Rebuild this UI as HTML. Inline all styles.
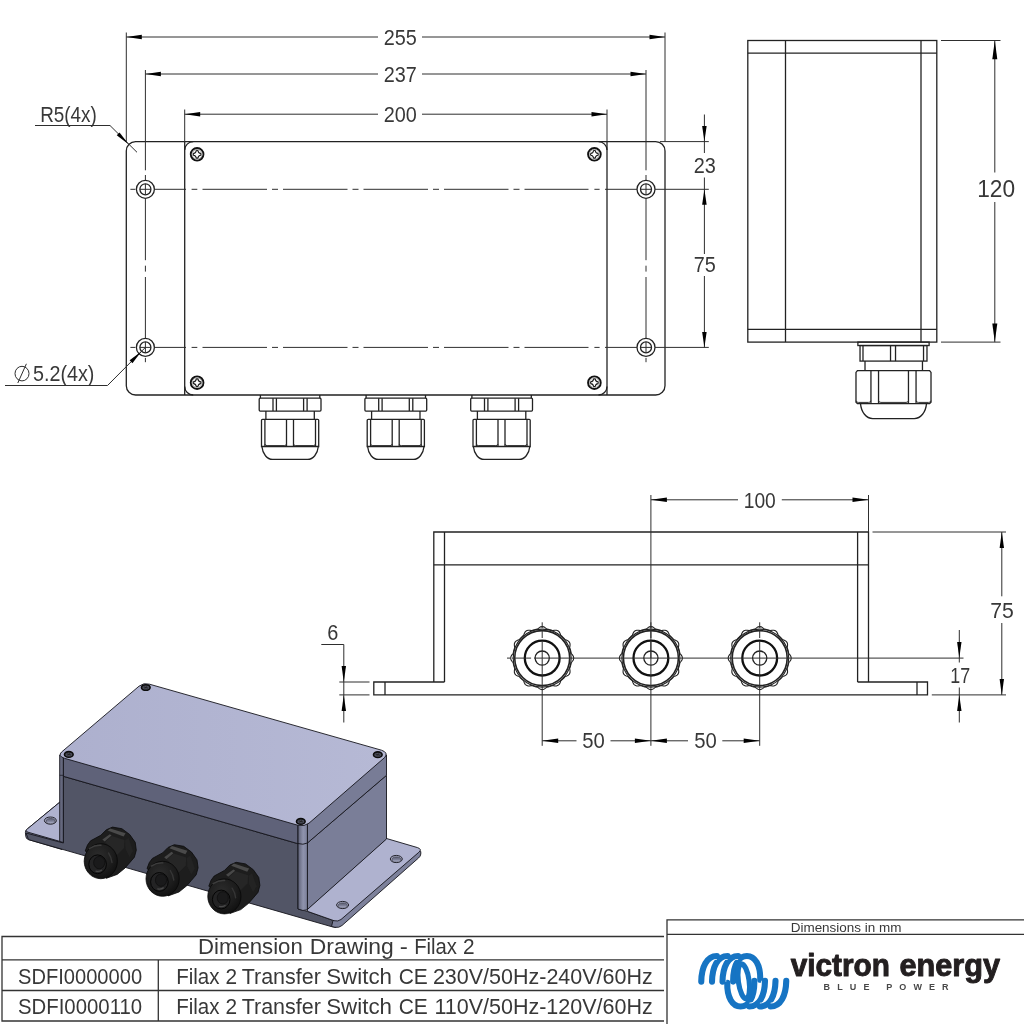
<!DOCTYPE html>
<html lang="en">
<head>
<meta charset="utf-8">
<title>Dimension Drawing - Filax 2</title>
<style>
html,body{margin:0;padding:0;background:#fff;}
body{width:1024px;height:1024px;overflow:hidden;}
svg{display:block;will-change:transform;opacity:0.999;}
.o{fill:none;stroke:#222;stroke-width:1.3;}
.k{fill:none;stroke:#111;stroke-width:1.9;}
.d{fill:none;stroke:#2e2e2e;stroke-width:1;}
.c{fill:none;stroke:#2e2e2e;stroke-width:1;}
.a{fill:#000;stroke:none;}
.t{font-family:"Liberation Sans","DejaVu Sans",sans-serif;fill:#383838;}
.tb{font-family:"Liberation Sans","DejaVu Sans",sans-serif;fill:#231f20;font-weight:bold;}
</style>
</head>
<body>
<svg width="1024" height="1024" viewBox="0 0 1024 1024">
<rect x="0" y="0" width="1024" height="1024" fill="#fff"/>
<g id="topview">
<rect class="o" x="126.3" y="141.6" width="538.7" height="253.4" rx="9.3"/>
<path class="o" d="M184.7,150.1 A8.5,8.5 0 0 1 193.2,141.6 M598.5,141.6 A8.5,8.5 0 0 1 607,150.1 M607,386.5 A8.5,8.5 0 0 1 598.5,395 M193.2,395 A8.5,8.5 0 0 1 184.7,386.5"/>
<line class="o" x1="184.7" y1="141.6" x2="184.7" y2="395"/>
<line class="o" x1="607" y1="141.6" x2="607" y2="395"/>
<circle class="k" cx="197.1" cy="154.3" r="6.35" style="stroke-width:1.9"/>
<circle class="d" cx="197.1" cy="154.3" r="4.9" style="stroke:#8a8a8a;stroke-width:0.7"/>
<path class="d" d="M196.2,150.7 Q197.1,150.2 198,150.7 Q198.22,153.18 200.7,153.4 Q201.2,154.3 200.7,155.2 Q198.22,155.42 198,157.9 Q197.1,158.4 196.2,157.9 Q195.98,155.42 193.5,155.2 Q193,154.3 193.5,153.4 Q195.98,153.18 196.2,150.7Z" style="stroke:#1a1a1a;stroke-width:1.1"/>
<circle class="k" cx="197.1" cy="382.7" r="6.35" style="stroke-width:1.9"/>
<circle class="d" cx="197.1" cy="382.7" r="4.9" style="stroke:#8a8a8a;stroke-width:0.7"/>
<path class="d" d="M196.2,379.1 Q197.1,378.6 198,379.1 Q198.22,381.58 200.7,381.8 Q201.2,382.7 200.7,383.6 Q198.22,383.82 198,386.3 Q197.1,386.8 196.2,386.3 Q195.98,383.82 193.5,383.6 Q193,382.7 193.5,381.8 Q195.98,381.58 196.2,379.1Z" style="stroke:#1a1a1a;stroke-width:1.1"/>
<circle class="k" cx="594.4" cy="154.3" r="6.35" style="stroke-width:1.9"/>
<circle class="d" cx="594.4" cy="154.3" r="4.9" style="stroke:#8a8a8a;stroke-width:0.7"/>
<path class="d" d="M593.5,150.7 Q594.4,150.2 595.3,150.7 Q595.52,153.18 598,153.4 Q598.5,154.3 598,155.2 Q595.52,155.42 595.3,157.9 Q594.4,158.4 593.5,157.9 Q593.28,155.42 590.8,155.2 Q590.3,154.3 590.8,153.4 Q593.28,153.18 593.5,150.7Z" style="stroke:#1a1a1a;stroke-width:1.1"/>
<circle class="k" cx="594.4" cy="382.7" r="6.35" style="stroke-width:1.9"/>
<circle class="d" cx="594.4" cy="382.7" r="4.9" style="stroke:#8a8a8a;stroke-width:0.7"/>
<path class="d" d="M593.5,379.1 Q594.4,378.6 595.3,379.1 Q595.52,381.58 598,381.8 Q598.5,382.7 598,383.6 Q595.52,383.82 595.3,386.3 Q594.4,386.8 593.5,386.3 Q593.28,383.82 590.8,383.6 Q590.3,382.7 590.8,381.8 Q593.28,381.58 593.5,379.1Z" style="stroke:#1a1a1a;stroke-width:1.1"/>
<circle class="o" cx="145.4" cy="189.3" r="9"/>
<circle class="o" cx="145.4" cy="189.3" r="5.5"/>
<line class="c" x1="139.9" y1="189.3" x2="150.9" y2="189.3"/>
<line class="c" x1="145.4" y1="183.8" x2="145.4" y2="194.8"/>
<circle class="o" cx="145.4" cy="347.4" r="9"/>
<circle class="o" cx="145.4" cy="347.4" r="5.5"/>
<line class="c" x1="139.9" y1="347.4" x2="150.9" y2="347.4"/>
<line class="c" x1="145.4" y1="341.9" x2="145.4" y2="352.9"/>
<circle class="o" cx="646" cy="189.3" r="9"/>
<circle class="o" cx="646" cy="189.3" r="5.5"/>
<line class="c" x1="640.5" y1="189.3" x2="651.5" y2="189.3"/>
<line class="c" x1="646" y1="183.8" x2="646" y2="194.8"/>
<circle class="o" cx="646" cy="347.4" r="9"/>
<circle class="o" cx="646" cy="347.4" r="5.5"/>
<line class="c" x1="640.5" y1="347.4" x2="651.5" y2="347.4"/>
<line class="c" x1="646" y1="341.9" x2="646" y2="352.9"/>
<line class="c" x1="130.4" y1="189.3" x2="135.4" y2="189.3"/>
<line class="c" x1="154.4" y1="189.3" x2="186" y2="189.3"/>
<line class="c" x1="191.6" y1="189.3" x2="197.3" y2="189.3"/>
<line class="c" x1="202.5" y1="189.3" x2="588.5" y2="189.3" stroke-dasharray="64.5 5 6 5"/>
<line class="c" x1="594.4" y1="189.3" x2="599.6" y2="189.3"/>
<line class="c" x1="605" y1="189.3" x2="637" y2="189.3"/>
<line class="c" x1="655" y1="189.3" x2="708.8" y2="189.3"/>
<line class="c" x1="130.4" y1="347.4" x2="135.4" y2="347.4"/>
<line class="c" x1="154.4" y1="347.4" x2="186" y2="347.4"/>
<line class="c" x1="191.6" y1="347.4" x2="197.3" y2="347.4"/>
<line class="c" x1="202.5" y1="347.4" x2="588.5" y2="347.4" stroke-dasharray="64.5 5 6 5"/>
<line class="c" x1="594.4" y1="347.4" x2="599.6" y2="347.4"/>
<line class="c" x1="605" y1="347.4" x2="637" y2="347.4"/>
<line class="c" x1="655" y1="347.4" x2="708.8" y2="347.4"/>
<line class="c" x1="145.4" y1="70" x2="145.4" y2="170.3"/>
<line class="c" x1="145.4" y1="175" x2="145.4" y2="180.3"/>
<line class="c" x1="145.4" y1="198.3" x2="145.4" y2="260.2"/>
<line class="c" x1="145.4" y1="265.7" x2="145.4" y2="271.6"/>
<line class="c" x1="145.4" y1="277" x2="145.4" y2="338.4"/>
<line class="c" x1="145.4" y1="357.9" x2="145.4" y2="362.2"/>
<line class="c" x1="646" y1="70" x2="646" y2="170.3"/>
<line class="c" x1="646" y1="175" x2="646" y2="180.3"/>
<line class="c" x1="646" y1="198.3" x2="646" y2="260.2"/>
<line class="c" x1="646" y1="265.7" x2="646" y2="271.6"/>
<line class="c" x1="646" y1="277" x2="646" y2="338.4"/>
<line class="c" x1="646" y1="357.9" x2="646" y2="362.2"/>
<line class="d" x1="126.3" y1="32.5" x2="126.3" y2="141.6"/>
<line class="d" x1="665" y1="32.5" x2="665" y2="141.6"/>
<line class="d" x1="126.3" y1="37" x2="378" y2="37"/>
<line class="d" x1="422" y1="37" x2="665" y2="37"/>
<polygon class="a" points="126.3,37 141.8,34.8 141.8,39.2"/>
<polygon class="a" points="665,37 649.5,39.2 649.5,34.8"/>
<text class="t" x="383.7" y="44.5" font-size="22" textLength="33.1" lengthAdjust="spacingAndGlyphs">255</text>
<line class="d" x1="145.4" y1="74" x2="378" y2="74"/>
<line class="d" x1="422" y1="74" x2="646" y2="74"/>
<polygon class="a" points="145.4,74 160.9,71.8 160.9,76.2"/>
<polygon class="a" points="646,74 630.5,76.2 630.5,71.8"/>
<text class="t" x="383.7" y="82" font-size="22" textLength="33.1" lengthAdjust="spacingAndGlyphs">237</text>
<line class="d" x1="184.7" y1="109.5" x2="184.7" y2="141.6"/>
<line class="d" x1="607" y1="109.5" x2="607" y2="141.6"/>
<line class="d" x1="184.7" y1="114.2" x2="378" y2="114.2"/>
<line class="d" x1="422" y1="114.2" x2="607" y2="114.2"/>
<polygon class="a" points="184.7,114.2 200.2,112 200.2,116.4"/>
<polygon class="a" points="607,114.2 591.5,116.4 591.5,112"/>
<text class="t" x="383.7" y="122" font-size="22" textLength="33.1" lengthAdjust="spacingAndGlyphs">200</text>
<line class="d" x1="660" y1="141.6" x2="708.8" y2="141.6"/>
<line class="d" x1="704.4" y1="114.5" x2="704.4" y2="153"/>
<polygon class="a" points="704.4,141.6 702.15,126.1 706.65,126.1"/>
<line class="d" x1="704.4" y1="177.5" x2="704.4" y2="254"/>
<polygon class="a" points="704.4,189.3 706.65,204.8 702.15,204.8"/>
<line class="d" x1="704.4" y1="276" x2="704.4" y2="347.4"/>
<polygon class="a" points="704.4,347.4 702.15,331.9 706.65,331.9"/>
<text class="t" x="693.7" y="173.3" font-size="22" textLength="22.1" lengthAdjust="spacingAndGlyphs">23</text>
<text class="t" x="693.7" y="271.5" font-size="22" textLength="22.1" lengthAdjust="spacingAndGlyphs">75</text>
<text class="t" x="40.2" y="121.8" font-size="22" textLength="56.6" lengthAdjust="spacingAndGlyphs">R5(4x)</text>
<path class="d" d="M35,125.5 H110 L137,152.3"/>
<polygon class="a" points="128.8,144.4 116.75,135.25 119.56,132.41"/>
<g class="d"><ellipse cx="22" cy="373.6" rx="7" ry="7.3"/><line x1="17.8" y1="383" x2="26.4" y2="363.8"/></g>
<text class="t" x="33" y="380.8" font-size="22" textLength="61.4" lengthAdjust="spacingAndGlyphs">5.2(4x)</text>
<path class="d" d="M5,385.5 H107.5 L145.4,347.4"/>
<polygon class="a" points="141.3,351.5 132.46,363.17 129.63,360.34"/>
<path class="o" d="M260.4,395 V398.2 M319.8,395 V398.2"/>
<rect class="o" x="259.2" y="398.2" width="61.8" height="12.9" rx="1"/>
<line class="o" x1="273" y1="398.2" x2="273" y2="411.1"/>
<line class="o" x1="276.4" y1="398.2" x2="276.4" y2="411.1"/>
<line class="o" x1="303.6" y1="398.2" x2="303.6" y2="411.1"/>
<line class="o" x1="307.1" y1="398.2" x2="307.1" y2="411.1"/>
<line class="o" x1="265.9" y1="411.1" x2="265.9" y2="419.3"/>
<line class="o" x1="314.3" y1="411.1" x2="314.3" y2="419.3"/>
<path class="o" d="M261.5,446.5 V420.3 Q261.5,419.3 262.5,419.3 H317.7 Q318.7,419.3 318.7,420.3 V446.5 Z"/>
<line class="o" x1="264.9" y1="419.3" x2="264.9" y2="446.5"/>
<line class="o" x1="286.5" y1="419.3" x2="286.5" y2="446.5"/>
<line class="o" x1="293.5" y1="419.3" x2="293.5" y2="446.5"/>
<line class="o" x1="315.5" y1="419.3" x2="315.5" y2="446.5"/>
<path class="d" d="M264.9,444 Q264.9,445.6 267.1,445.6 H284.3 Q286.5,445.6 286.5,444"/>
<path class="d" d="M293.5,444 Q293.5,445.6 295.7,445.6 H313.3 Q315.5,445.6 315.5,444"/>
<path class="o" d="M261.9,446.5 C262.6,454 267.1,459.4 272.6,459.4 H307.6 C313.1,459.4 317.6,454 318.3,446.5"/>
<path class="o" d="M366.1,395 V398.2 M425.5,395 V398.2"/>
<rect class="o" x="364.9" y="398.2" width="61.8" height="12.9" rx="1"/>
<line class="o" x1="378.7" y1="398.2" x2="378.7" y2="411.1"/>
<line class="o" x1="382.1" y1="398.2" x2="382.1" y2="411.1"/>
<line class="o" x1="409.3" y1="398.2" x2="409.3" y2="411.1"/>
<line class="o" x1="412.8" y1="398.2" x2="412.8" y2="411.1"/>
<line class="o" x1="371.6" y1="411.1" x2="371.6" y2="419.3"/>
<line class="o" x1="420" y1="411.1" x2="420" y2="419.3"/>
<path class="o" d="M367.2,446.5 V420.3 Q367.2,419.3 368.2,419.3 H423.4 Q424.4,419.3 424.4,420.3 V446.5 Z"/>
<line class="o" x1="370.6" y1="419.3" x2="370.6" y2="446.5"/>
<line class="o" x1="392.2" y1="419.3" x2="392.2" y2="446.5"/>
<line class="o" x1="399.2" y1="419.3" x2="399.2" y2="446.5"/>
<line class="o" x1="421.2" y1="419.3" x2="421.2" y2="446.5"/>
<path class="d" d="M370.6,444 Q370.6,445.6 372.8,445.6 H390 Q392.2,445.6 392.2,444"/>
<path class="d" d="M399.2,444 Q399.2,445.6 401.4,445.6 H419 Q421.2,445.6 421.2,444"/>
<path class="o" d="M367.6,446.5 C368.3,454 372.8,459.4 378.3,459.4 H413.3 C418.8,459.4 423.3,454 424,446.5"/>
<path class="o" d="M471.9,395 V398.2 M531.3,395 V398.2"/>
<rect class="o" x="470.7" y="398.2" width="61.8" height="12.9" rx="1"/>
<line class="o" x1="484.5" y1="398.2" x2="484.5" y2="411.1"/>
<line class="o" x1="487.9" y1="398.2" x2="487.9" y2="411.1"/>
<line class="o" x1="515.1" y1="398.2" x2="515.1" y2="411.1"/>
<line class="o" x1="518.6" y1="398.2" x2="518.6" y2="411.1"/>
<line class="o" x1="477.4" y1="411.1" x2="477.4" y2="419.3"/>
<line class="o" x1="525.8" y1="411.1" x2="525.8" y2="419.3"/>
<path class="o" d="M473,446.5 V420.3 Q473,419.3 474,419.3 H529.2 Q530.2,419.3 530.2,420.3 V446.5 Z"/>
<line class="o" x1="476.4" y1="419.3" x2="476.4" y2="446.5"/>
<line class="o" x1="498" y1="419.3" x2="498" y2="446.5"/>
<line class="o" x1="505" y1="419.3" x2="505" y2="446.5"/>
<line class="o" x1="527" y1="419.3" x2="527" y2="446.5"/>
<path class="d" d="M476.4,444 Q476.4,445.6 478.6,445.6 H495.8 Q498,445.6 498,444"/>
<path class="d" d="M505,444 Q505,445.6 507.2,445.6 H524.8 Q527,445.6 527,444"/>
<path class="o" d="M473.4,446.5 C474.1,454 478.6,459.4 484.1,459.4 H519.1 C524.6,459.4 529.1,454 529.8,446.5"/>
</g>
<g id="sideview">
<rect class="o" x="747.8" y="40.5" width="189" height="301.6"/>
<line class="o" x1="747.8" y1="53.1" x2="936.8" y2="53.1"/>
<line class="o" x1="747.8" y1="329.3" x2="936.8" y2="329.3"/>
<line class="o" x1="785.5" y1="40.5" x2="785.5" y2="342.1"/>
<line class="o" x1="921" y1="40.5" x2="921" y2="342.1"/>
<line class="d" x1="941" y1="40.5" x2="1000.5" y2="40.5"/>
<line class="d" x1="941" y1="342.1" x2="1000.5" y2="342.1"/>
<line class="d" x1="994.8" y1="40.5" x2="994.8" y2="172.5"/>
<line class="d" x1="994.8" y1="202" x2="994.8" y2="342.1"/>
<polygon class="a" points="994.8,40.5 997.3,59.2 992.3,59.2"/>
<polygon class="a" points="994.8,342.1 992.3,323.4 997.3,323.4"/>
<text class="t" x="977.2" y="197" font-size="24.5" textLength="37.9" lengthAdjust="spacingAndGlyphs">120</text>
<rect class="o" x="857.89" y="342.1" width="71.22" height="3.44"/>
<rect class="o" x="860.03" y="345.54" width="66.95" height="15.55"/>
<line class="o" x1="862.99" y1="345.54" x2="862.99" y2="361.09"/>
<line class="o" x1="890.53" y1="345.54" x2="890.53" y2="361.09"/>
<line class="o" x1="895.52" y1="345.54" x2="895.52" y2="361.09"/>
<line class="o" x1="923.53" y1="345.54" x2="923.53" y2="361.09"/>
<line class="o" x1="865.01" y1="361.09" x2="865.01" y2="370.59"/>
<line class="o" x1="922.46" y1="361.09" x2="922.46" y2="370.59"/>
<path class="o" d="M855.99,402.16 V372.37 L857.42,370.59 H929.58 L931.01,372.37 V402.16 L929.58,403.59 H857.42 Z"/>
<line class="o" x1="870.95" y1="370.59" x2="870.95" y2="403.23"/>
<line class="o" x1="878.54" y1="370.59" x2="878.54" y2="403.23"/>
<line class="o" x1="908.46" y1="370.59" x2="908.46" y2="403.23"/>
<line class="o" x1="916.05" y1="370.59" x2="916.05" y2="403.23"/>
<path class="d" d="M855.99,400.62 Q855.99,402.4 858.36,402.4 H868.57 Q870.95,402.4 870.95,400.62"/>
<path class="d" d="M878.54,400.62 Q878.54,402.4 880.92,402.4 H906.08 Q908.46,402.4 908.46,400.62"/>
<path class="d" d="M916.05,400.62 Q916.05,402.4 918.43,402.4 H928.64 Q931.01,402.4 931.01,400.62"/>
<path class="o" d="M860.5,403.59 C861.21,412.13 866.2,418.54 872.73,418.54 H914.27 C920.8,418.54 925.79,412.13 926.5,403.59"/>
</g>
<g id="frontview">
<path class="o" d="M433.8,682 V532 H868.5 V682"/>
<line class="o" x1="433.8" y1="564.9" x2="868.5" y2="564.9"/>
<line class="o" x1="444.5" y1="532" x2="444.5" y2="682"/>
<line class="o" x1="857.6" y1="532" x2="857.6" y2="682"/>
<path class="o" d="M444.5,682 H373.8 V694.9 H927.5 V682 H857.6"/>
<line class="o" x1="385" y1="682" x2="385" y2="694.9"/>
<line class="o" x1="917" y1="682" x2="917" y2="694.9"/>
<path class="o" d="M573.7,658.1 L573.41,659.74 L572.47,661.28 L571.24,662.7 L570.96,664.21 L570.6,665.71 L570.16,667.19 L569.65,668.64 L570.01,670.48 L570.04,672.29 L569.48,673.85 L568.41,675.12 L566.82,675.99 L565.05,676.6 L564.05,677.77 L562.99,678.89 L561.87,679.95 L560.7,680.95 L560.09,682.72 L559.22,684.31 L557.95,685.38 L556.39,685.94 L554.58,685.91 L552.74,685.55 L551.29,686.06 L549.81,686.5 L548.31,686.86 L546.8,687.14 L545.38,688.37 L543.84,689.31 L542.2,689.6 L540.56,689.31 L539.02,688.37 L537.6,687.14 L536.09,686.86 L534.59,686.5 L533.11,686.06 L531.66,685.55 L529.82,685.91 L528.01,685.94 L526.45,685.38 L525.18,684.31 L524.31,682.72 L523.7,680.95 L522.53,679.95 L521.41,678.89 L520.35,677.77 L519.35,676.6 L517.58,675.99 L515.99,675.12 L514.92,673.85 L514.36,672.29 L514.39,670.48 L514.75,668.64 L514.24,667.19 L513.8,665.71 L513.44,664.21 L513.16,662.7 L511.93,661.28 L510.99,659.74 L510.7,658.1 L510.99,656.46 L511.93,654.92 L513.16,653.5 L513.44,651.99 L513.8,650.49 L514.24,649.01 L514.75,647.56 L514.39,645.72 L514.36,643.91 L514.92,642.35 L515.99,641.08 L517.58,640.21 L519.35,639.6 L520.35,638.43 L521.41,637.31 L522.53,636.25 L523.7,635.25 L524.31,633.48 L525.18,631.89 L526.45,630.82 L528.01,630.26 L529.82,630.29 L531.66,630.65 L533.11,630.14 L534.59,629.7 L536.09,629.34 L537.6,629.06 L539.02,627.83 L540.56,626.89 L542.2,626.6 L543.84,626.89 L545.38,627.83 L546.8,629.06 L548.31,629.34 L549.81,629.7 L551.29,630.14 L552.74,630.65 L554.58,630.29 L556.39,630.26 L557.95,630.82 L559.22,631.89 L560.09,633.48 L560.7,635.25 L561.87,636.25 L562.99,637.31 L564.05,638.43 L565.05,639.6 L566.82,640.21 L568.41,641.08 L569.48,642.35 L570.04,643.91 L570.01,645.72 L569.65,647.56 L570.16,649.01 L570.6,650.49 L570.96,651.99 L571.24,653.5 L572.47,654.92 L573.41,656.46 L573.7,658.1Z" style="stroke-width:1.1"/>
<circle class="o" cx="542.2" cy="658.1" r="27.5" style="stroke-width:1.6"/>
<circle class="o" cx="542.2" cy="658.1" r="29" style="stroke-width:1.1"/>
<circle class="k" cx="542.2" cy="658.1" r="17.4" style="stroke-width:2.3"/>
<circle class="o" cx="542.2" cy="658.1" r="7.1"/>
<path class="o" d="M682.4,658.1 L682.11,659.74 L681.17,661.28 L679.94,662.7 L679.66,664.21 L679.3,665.71 L678.86,667.19 L678.35,668.64 L678.71,670.48 L678.74,672.29 L678.18,673.85 L677.11,675.12 L675.52,675.99 L673.75,676.6 L672.75,677.77 L671.69,678.89 L670.57,679.95 L669.4,680.95 L668.79,682.72 L667.92,684.31 L666.65,685.38 L665.09,685.94 L663.28,685.91 L661.44,685.55 L659.99,686.06 L658.51,686.5 L657.01,686.86 L655.5,687.14 L654.08,688.37 L652.54,689.31 L650.9,689.6 L649.26,689.31 L647.72,688.37 L646.3,687.14 L644.79,686.86 L643.29,686.5 L641.81,686.06 L640.36,685.55 L638.52,685.91 L636.71,685.94 L635.15,685.38 L633.88,684.31 L633.01,682.72 L632.4,680.95 L631.23,679.95 L630.11,678.89 L629.05,677.77 L628.05,676.6 L626.28,675.99 L624.69,675.12 L623.62,673.85 L623.06,672.29 L623.09,670.48 L623.45,668.64 L622.94,667.19 L622.5,665.71 L622.14,664.21 L621.86,662.7 L620.63,661.28 L619.69,659.74 L619.4,658.1 L619.69,656.46 L620.63,654.92 L621.86,653.5 L622.14,651.99 L622.5,650.49 L622.94,649.01 L623.45,647.56 L623.09,645.72 L623.06,643.91 L623.62,642.35 L624.69,641.08 L626.28,640.21 L628.05,639.6 L629.05,638.43 L630.11,637.31 L631.23,636.25 L632.4,635.25 L633.01,633.48 L633.88,631.89 L635.15,630.82 L636.71,630.26 L638.52,630.29 L640.36,630.65 L641.81,630.14 L643.29,629.7 L644.79,629.34 L646.3,629.06 L647.72,627.83 L649.26,626.89 L650.9,626.6 L652.54,626.89 L654.08,627.83 L655.5,629.06 L657.01,629.34 L658.51,629.7 L659.99,630.14 L661.44,630.65 L663.28,630.29 L665.09,630.26 L666.65,630.82 L667.92,631.89 L668.79,633.48 L669.4,635.25 L670.57,636.25 L671.69,637.31 L672.75,638.43 L673.75,639.6 L675.52,640.21 L677.11,641.08 L678.18,642.35 L678.74,643.91 L678.71,645.72 L678.35,647.56 L678.86,649.01 L679.3,650.49 L679.66,651.99 L679.94,653.5 L681.17,654.92 L682.11,656.46 L682.4,658.1Z" style="stroke-width:1.1"/>
<circle class="o" cx="650.9" cy="658.1" r="27.5" style="stroke-width:1.6"/>
<circle class="o" cx="650.9" cy="658.1" r="29" style="stroke-width:1.1"/>
<circle class="k" cx="650.9" cy="658.1" r="17.4" style="stroke-width:2.3"/>
<circle class="o" cx="650.9" cy="658.1" r="7.1"/>
<path class="o" d="M791.2,658.1 L790.91,659.74 L789.97,661.28 L788.74,662.7 L788.46,664.21 L788.1,665.71 L787.66,667.19 L787.15,668.64 L787.51,670.48 L787.54,672.29 L786.98,673.85 L785.91,675.12 L784.32,675.99 L782.55,676.6 L781.55,677.77 L780.49,678.89 L779.37,679.95 L778.2,680.95 L777.59,682.72 L776.72,684.31 L775.45,685.38 L773.89,685.94 L772.08,685.91 L770.24,685.55 L768.79,686.06 L767.31,686.5 L765.81,686.86 L764.3,687.14 L762.88,688.37 L761.34,689.31 L759.7,689.6 L758.06,689.31 L756.52,688.37 L755.1,687.14 L753.59,686.86 L752.09,686.5 L750.61,686.06 L749.16,685.55 L747.32,685.91 L745.51,685.94 L743.95,685.38 L742.68,684.31 L741.81,682.72 L741.2,680.95 L740.03,679.95 L738.91,678.89 L737.85,677.77 L736.85,676.6 L735.08,675.99 L733.49,675.12 L732.42,673.85 L731.86,672.29 L731.89,670.48 L732.25,668.64 L731.74,667.19 L731.3,665.71 L730.94,664.21 L730.66,662.7 L729.43,661.28 L728.49,659.74 L728.2,658.1 L728.49,656.46 L729.43,654.92 L730.66,653.5 L730.94,651.99 L731.3,650.49 L731.74,649.01 L732.25,647.56 L731.89,645.72 L731.86,643.91 L732.42,642.35 L733.49,641.08 L735.08,640.21 L736.85,639.6 L737.85,638.43 L738.91,637.31 L740.03,636.25 L741.2,635.25 L741.81,633.48 L742.68,631.89 L743.95,630.82 L745.51,630.26 L747.32,630.29 L749.16,630.65 L750.61,630.14 L752.09,629.7 L753.59,629.34 L755.1,629.06 L756.52,627.83 L758.06,626.89 L759.7,626.6 L761.34,626.89 L762.88,627.83 L764.3,629.06 L765.81,629.34 L767.31,629.7 L768.79,630.14 L770.24,630.65 L772.08,630.29 L773.89,630.26 L775.45,630.82 L776.72,631.89 L777.59,633.48 L778.2,635.25 L779.37,636.25 L780.49,637.31 L781.55,638.43 L782.55,639.6 L784.32,640.21 L785.91,641.08 L786.98,642.35 L787.54,643.91 L787.51,645.72 L787.15,647.56 L787.66,649.01 L788.1,650.49 L788.46,651.99 L788.74,653.5 L789.97,654.92 L790.91,656.46 L791.2,658.1Z" style="stroke-width:1.1"/>
<circle class="o" cx="759.7" cy="658.1" r="27.5" style="stroke-width:1.6"/>
<circle class="o" cx="759.7" cy="658.1" r="29" style="stroke-width:1.1"/>
<circle class="k" cx="759.7" cy="658.1" r="17.4" style="stroke-width:2.3"/>
<circle class="o" cx="759.7" cy="658.1" r="7.1"/>
<line class="c" x1="542.2" y1="622.3" x2="542.2" y2="658.1" stroke-dasharray="5.5 3.2 7 3.2 100"/>
<line class="c" x1="650.9" y1="622.3" x2="650.9" y2="658.1" stroke-dasharray="5.5 3.2 7 3.2 100"/>
<line class="c" x1="759.7" y1="622.3" x2="759.7" y2="658.1" stroke-dasharray="5.5 3.2 7 3.2 100"/>
<line class="c" x1="507" y1="658.1" x2="542.2" y2="658.1" stroke-dasharray="3.5 1.6 19 3 100"/>
<line class="d" x1="542.2" y1="658.1" x2="963.5" y2="658.1"/>
<line class="d" x1="650.9" y1="495" x2="650.9" y2="745.8"/>
<line class="d" x1="868.5" y1="495" x2="868.5" y2="532"/>
<line class="d" x1="650.9" y1="499.8" x2="738" y2="499.8"/>
<line class="d" x1="781.8" y1="499.8" x2="868.5" y2="499.8"/>
<polygon class="a" points="650.9,499.8 666.9,497.6 666.9,502"/>
<polygon class="a" points="868.5,499.8 852.5,502 852.5,497.6"/>
<text class="t" x="743.7" y="507.5" font-size="22" textLength="32.1" lengthAdjust="spacingAndGlyphs">100</text>
<line class="d" x1="542.2" y1="658.1" x2="542.2" y2="745.8"/>
<line class="d" x1="759.7" y1="658.1" x2="759.7" y2="745.8"/>
<line class="d" x1="542.2" y1="740.8" x2="576.5" y2="740.8"/>
<line class="d" x1="610.5" y1="740.8" x2="650.9" y2="740.8"/>
<line class="d" x1="650.9" y1="740.8" x2="688" y2="740.8"/>
<line class="d" x1="722.3" y1="740.8" x2="759.7" y2="740.8"/>
<polygon class="a" points="542.2,740.8 558.2,738.6 558.2,743"/>
<polygon class="a" points="650.9,740.8 634.9,743 634.9,738.6"/>
<polygon class="a" points="650.9,740.8 666.9,738.6 666.9,743"/>
<polygon class="a" points="759.7,740.8 743.7,743 743.7,738.6"/>
<text class="t" x="582.2" y="748.3" font-size="22" textLength="22.6" lengthAdjust="spacingAndGlyphs">50</text>
<text class="t" x="694.2" y="748.3" font-size="22" textLength="22.6" lengthAdjust="spacingAndGlyphs">50</text>
<line class="d" x1="872.5" y1="532" x2="1006" y2="532"/>
<line class="d" x1="931.8" y1="694.9" x2="1006" y2="694.9"/>
<line class="d" x1="1001.8" y1="532" x2="1001.8" y2="596.3"/>
<line class="d" x1="1001.8" y1="623" x2="1001.8" y2="694.9"/>
<polygon class="a" points="1001.8,532 1004,548 999.6,548"/>
<polygon class="a" points="1001.8,694.9 999.6,678.9 1004,678.9"/>
<text class="t" x="990.2" y="617.5" font-size="22" textLength="23.6" lengthAdjust="spacingAndGlyphs">75</text>
<line class="d" x1="959.3" y1="630" x2="959.3" y2="662.5"/>
<line class="d" x1="959.3" y1="687.5" x2="959.3" y2="722.5"/>
<polygon class="a" points="959.3,658.1 957.1,642.1 961.5,642.1"/>
<polygon class="a" points="959.3,694.9 961.5,710.9 957.1,710.9"/>
<text class="t" x="950.2" y="682.5" font-size="22" textLength="19.9" lengthAdjust="spacingAndGlyphs">17</text>
<text class="t" x="327.2" y="640.3" font-size="22" textLength="11.1" lengthAdjust="spacingAndGlyphs">6</text>
<path class="d" d="M321.3,644.5 H343.8 V722.5"/>
<polygon class="a" points="343.8,682 341.6,666 346,666"/>
<polygon class="a" points="343.8,694.9 346,710.9 341.6,710.9"/>
<line class="d" x1="339.3" y1="682" x2="369.5" y2="682"/>
<line class="d" x1="339.3" y1="694.9" x2="369.5" y2="694.9"/>
</g>
<g id="iso" stroke-linejoin="round">
<defs>
<linearGradient id="gtop" x1="0" y1="0" x2="1" y2="0"><stop offset="0" stop-color="#adb0ce"/><stop offset="1" stop-color="#b6b9d5"/></linearGradient>
<linearGradient id="gcorner" x1="0" y1="0" x2="1" y2="0"><stop offset="0" stop-color="#5e6176"/><stop offset="0.55" stop-color="#8f93ad"/><stop offset="1" stop-color="#7b7f99"/></linearGradient>
<linearGradient id="gcornerl" x1="0" y1="0" x2="1" y2="0"><stop offset="0" stop-color="#6e7189"/><stop offset="1" stop-color="#5a5d71"/></linearGradient>
<linearGradient id="ghole" x1="0" y1="0" x2="0" y2="1"><stop offset="0" stop-color="#5a5d70"/><stop offset="0.5" stop-color="#7c7f97"/><stop offset="1" stop-color="#b4b7d0"/></linearGradient>
<radialGradient id="gdome" cx="0.42" cy="0.35" r="0.75"><stop offset="0" stop-color="#2c2c2c"/><stop offset="0.6" stop-color="#1c1c1c"/><stop offset="1" stop-color="#0c0c0c"/></radialGradient>
</defs>
<path d="M63,799.5 L27.5,828.8 Q25.2,830.3 25.4,832.5 L25.8,836.5 Q26,838.8 28.5,839.6 L62,849.5 Z" fill="#6a6d86" stroke="#15151c" stroke-width="0.9"/>
<path d="M63,799.5 L27.5,828.8 Q24.5,831 28,832.2 L63,842.3 Z" fill="#afb2cf" stroke="#15151c" stroke-width="0.9"/>
<ellipse cx="50.4" cy="820.6" rx="6" ry="3.6" fill="#a5a8c2" stroke="#15151c" stroke-width="0.9"/>
<ellipse cx="50.6" cy="821.1" rx="4.5" ry="2.6" fill="url(#ghole)" stroke="#2a2a33" stroke-width="0.5"/>
<path d="M63.4,776.3 L298,843.7 L298,909 L307.4,911.3 L334,920.7 L336,927.4 L331,926.5 L28.5,839.6 L26,833 L63.4,843 Z" fill="#525566" stroke="#15151c" stroke-width="0.9"/>
<path d="M418.8,850 L420.8,851.5 L420.8,854 Q420.6,856.3 418.5,858 L342,925.5 Q339,928 335,927.3 L331.5,926.5 L333,920.5 L341,918.5 Z" fill="#7d819b" stroke="#15151c" stroke-width="0.9"/>
<path d="M386.5,838.5 L417.5,847.6 Q422.5,849.3 418.8,852.3 L341,919.5 Q338,921.8 334,920.7 L307.4,911.3 L307.4,909 Z" fill="#afb2cf" stroke="#15151c" stroke-width="0.9"/>
<ellipse cx="396.3" cy="859" rx="6" ry="3.6" fill="#a5a8c2" stroke="#15151c" stroke-width="0.9"/>
<ellipse cx="396.5" cy="859.5" rx="4.5" ry="2.6" fill="url(#ghole)" stroke="#2a2a33" stroke-width="0.5"/>
<ellipse cx="342.6" cy="905" rx="6" ry="3.6" fill="#a5a8c2" stroke="#15151c" stroke-width="0.9"/>
<ellipse cx="342.8" cy="905.5" rx="4.5" ry="2.6" fill="url(#ghole)" stroke="#2a2a33" stroke-width="0.5"/>
<path d="M307.4,843 L386.5,775.3 L386.5,839 L307.4,909.5 Z" fill="#7a7e98" stroke="#15151c" stroke-width="0.9"/>
<path d="M307.4,824 L386.5,755 L386.5,775.3 L307.4,843 Z" fill="#787c96" stroke="#15151c" stroke-width="0.9"/>
<path d="M63.4,756 L298,823.5 L298,843.7 L63.4,776.3 Z" fill="#5f6279" stroke="#15151c" stroke-width="0.9"/>
<path d="M59.7,755 L63.4,756 L63.4,842.5 L59.7,841.5 Z" fill="url(#gcornerl)" stroke="#15151c" stroke-width="0.9"/>
<line class="o" x1="59.7" y1="775.3" x2="63.4" y2="775.3" style="stroke:#15151c;stroke-width:0.7"/>
<path d="M298,823.5 L307.4,824 L307.4,909.8 Q303,911.5 298,909 Z" fill="url(#gcorner)" stroke="#15151c" stroke-width="0.9"/>
<path d="M298,843.5 Q303,845.2 307.4,843" fill="none" stroke="#15151c" stroke-width="0.9"/>
<path d="M139,686.2 Q143.5,682.4 149.5,684.2 L381.5,750.2 Q388.6,752.6 384.8,757.4 L309,823.2 Q304.3,826.8 298,825.3 L64.5,758.3 Q57.5,756 61.6,752 Z" fill="url(#gtop)" stroke="#15151c" stroke-width="0.9"/>
<ellipse cx="145.8" cy="687.5" rx="4.3" ry="2.8" fill="#4a4c5a" stroke="#0c0c0c" stroke-width="1.6"/>
<path d="M143.60000000000002,686.9 L148.0,688.1 M144.60000000000002,688.5 L147.0,686.5" stroke="#222" stroke-width="0.9" fill="none"/>
<ellipse cx="68.8" cy="754.4" rx="4.3" ry="2.8" fill="#4a4c5a" stroke="#0c0c0c" stroke-width="1.6"/>
<path d="M66.6,753.8 L71.0,755.0 M67.6,755.4 L70.0,753.4" stroke="#222" stroke-width="0.9" fill="none"/>
<ellipse cx="377.8" cy="754.7" rx="4.3" ry="2.8" fill="#4a4c5a" stroke="#0c0c0c" stroke-width="1.6"/>
<path d="M375.6,754.1 L380.0,755.3000000000001 M376.6,755.7 L379.0,753.7" stroke="#222" stroke-width="0.9" fill="none"/>
<ellipse cx="300.8" cy="821.4" rx="4.3" ry="2.8" fill="#4a4c5a" stroke="#0c0c0c" stroke-width="1.6"/>
<path d="M298.6,820.8 L303.0,822.0 M299.6,822.4 L302.0,820.4" stroke="#222" stroke-width="0.9" fill="none"/>
<path d="M85.2,851 L87.5,845 L90.6,840.8 L100.8,835.3 L106.3,829.8 L112.5,827.1 L121.9,828.7 L129.7,834.5 L135.2,842.3 L136.3,850.2 L134.4,857.2 L129.7,862.7 L125,868.1 L117.2,874.4 L106.3,878.3 L96,860Z" fill="#1d1d1d" stroke="#0a0a0a" stroke-width="0.8"/>
<path d="M107.6,830.6 L110.2,828.4 L125.6,833.2 L123.6,836.6 Z" fill="#4a4a4a"/>
<path d="M102.4,839.6 L109.8,834.2 L111.6,835.6 L104.6,841.6 Z" fill="#484848"/>
<path d="M105,842 L112,836 L124.5,840 L124,848 L117,855 Z" fill="#262626"/>
<path d="M125,840.5 L128.5,838 L133,851 L129.5,857 L125.5,849 Z" fill="#232323"/>
<ellipse cx="100.8" cy="861.2" rx="16.6" ry="17.5" fill="url(#gdome)" stroke="#080808" stroke-width="0.8"/>
<path d="M89.5,848.5 Q95,844.8 101,845.3" stroke="#3d3d3d" stroke-width="1.4" fill="none" stroke-linecap="round"/>
<path d="M108.5,853 Q111.5,857.5 112,862.5" stroke="#353535" stroke-width="1.4" fill="none" stroke-linecap="round"/>
<ellipse cx="97.6" cy="864.3" rx="8.8" ry="9.4" fill="#232324" stroke="#050505" stroke-width="1"/>
<ellipse cx="99.2" cy="862.6" rx="5.6" ry="6.2" fill="#1a1a1b" stroke="#0a0a0a" stroke-width="0.6"/>
<path d="M96,871.2 Q99,872 101.5,870.3" stroke="#4a4a4a" stroke-width="1.3" fill="none" stroke-linecap="round"/>
<path d="M147,868.6 L149.3,862.6 L152.4,858.4 L162.6,852.9 L168.1,847.4 L174.3,844.7 L183.7,846.3 L191.5,852.1 L197,859.9 L198.1,867.8 L196.2,874.8 L191.5,880.3 L186.8,885.7 L179,892 L168.1,895.9 L157.8,877.6Z" fill="#1d1d1d" stroke="#0a0a0a" stroke-width="0.8"/>
<path d="M169.4,848.2 L172,846 L187.4,850.8 L185.4,854.2 Z" fill="#4a4a4a"/>
<path d="M164.2,857.2 L171.6,851.8 L173.4,853.2 L166.4,859.2 Z" fill="#484848"/>
<path d="M166.8,859.6 L173.8,853.6 L186.3,857.6 L185.8,865.6 L178.8,872.6 Z" fill="#262626"/>
<path d="M186.8,858.1 L190.3,855.6 L194.8,868.6 L191.3,874.6 L187.3,866.6 Z" fill="#232323"/>
<ellipse cx="162.6" cy="878.8" rx="16.6" ry="17.5" fill="url(#gdome)" stroke="#080808" stroke-width="0.8"/>
<path d="M151.3,866.1 Q156.8,862.4 162.8,862.9" stroke="#3d3d3d" stroke-width="1.4" fill="none" stroke-linecap="round"/>
<path d="M170.3,870.6 Q173.3,875.1 173.8,880.1" stroke="#353535" stroke-width="1.4" fill="none" stroke-linecap="round"/>
<ellipse cx="159.4" cy="881.9" rx="8.8" ry="9.4" fill="#232324" stroke="#050505" stroke-width="1"/>
<ellipse cx="161" cy="880.2" rx="5.6" ry="6.2" fill="#1a1a1b" stroke="#0a0a0a" stroke-width="0.6"/>
<path d="M157.8,888.8 Q160.8,889.6 163.3,887.9" stroke="#4a4a4a" stroke-width="1.3" fill="none" stroke-linecap="round"/>
<path d="M208.8,886.2 L211.1,880.2 L214.2,876 L224.4,870.5 L229.9,865 L236.1,862.3 L245.5,863.9 L253.3,869.7 L258.8,877.5 L259.9,885.4 L258,892.4 L253.3,897.9 L248.6,903.3 L240.8,909.6 L229.9,913.5 L219.6,895.2Z" fill="#1d1d1d" stroke="#0a0a0a" stroke-width="0.8"/>
<path d="M231.2,865.8 L233.8,863.6 L249.2,868.4 L247.2,871.8 Z" fill="#4a4a4a"/>
<path d="M226,874.8 L233.4,869.4 L235.2,870.8 L228.2,876.8 Z" fill="#484848"/>
<path d="M228.6,877.2 L235.6,871.2 L248.1,875.2 L247.6,883.2 L240.6,890.2 Z" fill="#262626"/>
<path d="M248.6,875.7 L252.1,873.2 L256.6,886.2 L253.1,892.2 L249.1,884.2 Z" fill="#232323"/>
<ellipse cx="224.4" cy="896.4" rx="16.6" ry="17.5" fill="url(#gdome)" stroke="#080808" stroke-width="0.8"/>
<path d="M213.1,883.7 Q218.6,880 224.6,880.5" stroke="#3d3d3d" stroke-width="1.4" fill="none" stroke-linecap="round"/>
<path d="M232.1,888.2 Q235.1,892.7 235.6,897.7" stroke="#353535" stroke-width="1.4" fill="none" stroke-linecap="round"/>
<ellipse cx="221.2" cy="899.5" rx="8.8" ry="9.4" fill="#232324" stroke="#050505" stroke-width="1"/>
<ellipse cx="222.8" cy="897.8" rx="5.6" ry="6.2" fill="#1a1a1b" stroke="#0a0a0a" stroke-width="0.6"/>
<path d="M219.6,906.4 Q222.6,907.2 225.1,905.5" stroke="#4a4a4a" stroke-width="1.3" fill="none" stroke-linecap="round"/>
</g>
<g id="table">
<path class="o" d="M664,936.5 H2 V1021 H664 M2,959.8 H664 M2,990.5 H664 M158.3,959.8 V1021" style="stroke:#333"/>
<text class="t" y="953.5" font-size="22.3"><tspan x="198" textLength="104.8" lengthAdjust="spacingAndGlyphs">Dimension</tspan> <tspan x="309.7" textLength="84.1" lengthAdjust="spacingAndGlyphs">Drawing</tspan> <tspan x="399.7" textLength="8.1" lengthAdjust="spacingAndGlyphs">-</tspan> <tspan x="414.2" textLength="42.8" lengthAdjust="spacingAndGlyphs">Filax</tspan> <tspan x="462.9" textLength="11.6" lengthAdjust="spacingAndGlyphs">2</tspan></text>
<text class="t" x="18" y="983.5" font-size="22.3" textLength="124.1" lengthAdjust="spacingAndGlyphs">SDFI0000000</text>
<text class="t" x="18" y="1013.5" font-size="22.3" textLength="124.1" lengthAdjust="spacingAndGlyphs">SDFI0000110</text>
<text class="t" y="983.5" font-size="22.3"><tspan x="176.2" textLength="43.3" lengthAdjust="spacingAndGlyphs">Filax</tspan> <tspan x="225.4" textLength="11.6" lengthAdjust="spacingAndGlyphs">2</tspan> <tspan x="241.7" textLength="79.1" lengthAdjust="spacingAndGlyphs">Transfer</tspan> <tspan x="326.2" textLength="65.8" lengthAdjust="spacingAndGlyphs">Switch</tspan> <tspan x="398.7" textLength="29.1" lengthAdjust="spacingAndGlyphs">CE</tspan> <tspan x="432.9" textLength="219.9" lengthAdjust="spacingAndGlyphs">230V/50Hz-240V/60Hz</tspan></text>
<text class="t" y="1013.5" font-size="22.3"><tspan x="176.2" textLength="43.3" lengthAdjust="spacingAndGlyphs">Filax</tspan> <tspan x="225.4" textLength="11.6" lengthAdjust="spacingAndGlyphs">2</tspan> <tspan x="241.7" textLength="79.1" lengthAdjust="spacingAndGlyphs">Transfer</tspan> <tspan x="326.2" textLength="65.8" lengthAdjust="spacingAndGlyphs">Switch</tspan> <tspan x="398.7" textLength="29.1" lengthAdjust="spacingAndGlyphs">CE</tspan> <tspan x="434.4" textLength="218.4" lengthAdjust="spacingAndGlyphs">110V/50Hz-120V/60Hz</tspan></text>
<path class="o" d="M1024,919.8 H667 V1024 M667,934.3 H1024" style="stroke:#333"/>
<text class="t" x="790.7" y="932" font-size="13.5" textLength="110.8" lengthAdjust="spacingAndGlyphs">Dimensions in mm</text>
</g>
<g id="logo">
<g fill="none" stroke="#1674c3" stroke-width="6.1" stroke-linecap="round">
<path d="M733.12,981.62 C733.12,962.5 740,956 746.88,956 C755,956 760.62,965 760.25,979.75"/>
<path d="M754.38,980.88 C754.38,1000 747.5,1006.5 740.62,1006.5 C732.5,1006.5 726.88,997.5 727.25,982.75"/>
<path d="M722.5,981.62 C722.75,966.88 728.12,956 738.12,956" stroke="#fff" stroke-width="7.4" stroke-linecap="butt"/>
<path d="M722.5,981.62 C722.75,966.88 728.12,956 738.12,956"/>
<path d="M765,980.88 C764.75,995.62 759.38,1006.5 749.38,1006.5" stroke="#fff" stroke-width="7.4" stroke-linecap="butt"/>
<path d="M765,980.88 C764.75,995.62 759.38,1006.5 749.38,1006.5"/>
<path d="M712,981.62 C712.25,966.88 717.62,956 727.62,956" stroke="#fff" stroke-width="7.4" stroke-linecap="butt"/>
<path d="M712,981.62 C712.25,966.88 717.62,956 727.62,956"/>
<path d="M775.5,980.88 C775.25,995.62 769.88,1006.5 759.88,1006.5" stroke="#fff" stroke-width="7.4" stroke-linecap="butt"/>
<path d="M775.5,980.88 C775.25,995.62 769.88,1006.5 759.88,1006.5"/>
<path d="M701.25,981.62 C701.5,966.88 706.88,956 716.88,956" stroke="#fff" stroke-width="7.4" stroke-linecap="butt"/>
<path d="M701.25,981.62 C701.5,966.88 706.88,956 716.88,956"/>
<path d="M786.25,980.88 C786,995.62 780.62,1006.5 770.62,1006.5" stroke="#fff" stroke-width="7.4" stroke-linecap="butt"/>
<path d="M786.25,980.88 C786,995.62 780.62,1006.5 770.62,1006.5"/>
</g>
<ellipse cx="743.75" cy="981.25" rx="5.4" ry="17.5" fill="none" stroke="#1674c3" stroke-width="5.2" transform="rotate(-8 743.75 981.25)"/>
<text class="tb" y="976.3" font-size="32" stroke="#231f20" stroke-width="1" stroke-linejoin="round"><tspan x="790.7" textLength="99.2" lengthAdjust="spacingAndGlyphs">victron</tspan><tspan> </tspan><tspan x="899.5" textLength="100.6" lengthAdjust="spacingAndGlyphs">energy</tspan></text>
<text class="t" x="823.6" y="990.2" font-size="9" textLength="125" lengthAdjust="spacing" style="fill:#484848;font-weight:bold">BLUE POWER</text>
</g>
</svg>
</body>
</html>
